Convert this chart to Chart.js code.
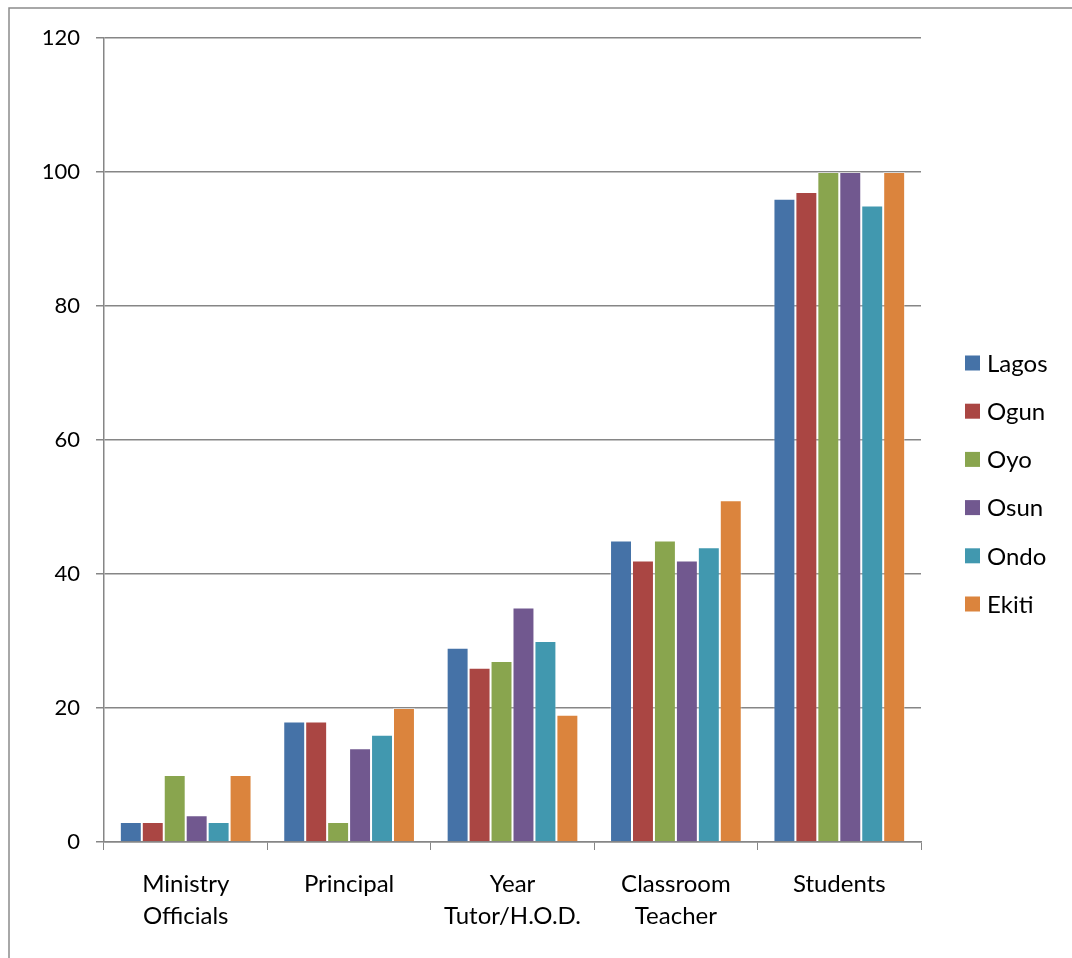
<!DOCTYPE html>
<html>
<head>
<meta charset="utf-8">
<script src="https://cdn.jsdelivr.net/npm/chart.js@4/dist/chart.umd.min.js"></script>
<style>
    body { margin: 0; background: #fff; }
    canvas { display: block; }
</style>
</head>
<body>
<canvas id="respondents" width="1072" height="958"></canvas>
<script>
const categories = [["Ministry", "Officials"], "Principal", ["Year", "Tutor/H.O.D."], ["Classroom", "Teacher"], "Students"]
const states = ["Lagos", "Ogun", "Oyo", "Osun", "Ondo", "Ekiti"]
const stateColours = ["#4572A7", "#AA4643", "#89A54E", "#71588F", "#4198AF", "#DB843D"]

const lagos = [3, 18, 29, 45, 96]
const ogun = [3, 18, 26, 42, 97]
const oyo = [10, 3, 27, 45, 100]
const osun = [4, 14, 35, 42, 100]
const ondo = [3, 16, 30, 44, 95]
const ekiti = [10, 20, 19, 51, 100]
const seriesValues = [lagos, ogun, oyo, osun, ondo, ekiti]

const yTicks = [0, 20, 40, 60, 80, 100, 120]

const gridGrey = "#868686"
const fontFamily = "Lato, 'Open Sans', sans-serif"

// thin grey frame round the whole chart
const frame = {
    id: "frame",
    beforeDraw: (chart) => {
        const ctx = chart.ctx
        ctx.save()
        ctx.fillStyle = "#fff"
        ctx.fillRect(0, 0, chart.width, chart.height)
        ctx.strokeStyle = "#8c8c8c"
        ctx.lineWidth = 1.5
        ctx.beginPath()
        ctx.moveTo(9, chart.height)
        ctx.lineTo(9, 8)
        ctx.lineTo(chart.width, 8)
        ctx.stroke()
        ctx.restore()
    }
}

// legend column to the right of the plot, one square + name per state
const sideLegend = {
    id: "sideLegend",
    afterDraw: (chart) => {
        const ctx = chart.ctx
        const x = chart.chartArea.right + 44
        const top = 363
        const step = 48.2
        ctx.save()
        ctx.font = `24px ${fontFamily}`
        ctx.textBaseline = "middle"
        ctx.textAlign = "left"
        chart.data.datasets.forEach((ds, i) => {
            const y = top + i * step
            ctx.fillStyle = ds.backgroundColor
            ctx.fillRect(x, y - 7.5, 15, 15)
            ctx.fillStyle = "#000"
            ctx.fillText(ds.label, x + 22, y + 1)
        })
        ctx.restore()
    }
}

var ctx = document.getElementById('respondents').getContext('2d');
var respondents = new Chart(ctx, {
    type: 'bar',
    data: {
        labels: categories,
        datasets: states.map((name, i) => ({
            label: name,
            data: seriesValues[i],
            backgroundColor: stateColours[i],
            borderColor: "rgba(255,255,255,0.35)",
            borderWidth: 1,
            barPercentage: 1,
            categoryPercentage: 0.806
        }))
    },
    options: {
        responsive: false,
        animation: false,
        layout: {
            padding: { top: 38, right: 151, bottom: 0, left: 0 }
        },
        plugins: {
            legend: { display: false },
            tooltip: { enabled: false }
        },
        scales: {
            x: {
                afterFit: (scale) => { scale.height = 116 },
                grid: {
                    display: true,
                    drawOnChartArea: false,
                    offset: true,
                    color: gridGrey,
                    tickLength: 8,
                    tickColor: gridGrey
                },
                border: { color: gridGrey, width: 1.5 },
                ticks: {
                    color: "#000",
                    padding: 19,
                    maxRotation: 0,
                    autoSkip: false,
                    font: { family: fontFamily, size: 24, lineHeight: 1.3 }
                }
            },
            y: {
                min: 0,
                max: 120,
                afterFit: (scale) => { scale.width = 104 },
                afterBuildTicks: (scale) => { scale.ticks = yTicks.map(v => ({ value: v })) },
                grid: {
                    color: gridGrey,
                    lineWidth: 1.5,
                    tickLength: 8,
                    tickColor: gridGrey
                },
                border: { color: gridGrey, width: 1.5 },
                ticks: {
                    color: "#000",
                    padding: 16,
                    font: { family: fontFamily, size: 22 }
                }
            }
        }
    },
    plugins: [frame, sideLegend]
});
</script>
</body>
</html>
